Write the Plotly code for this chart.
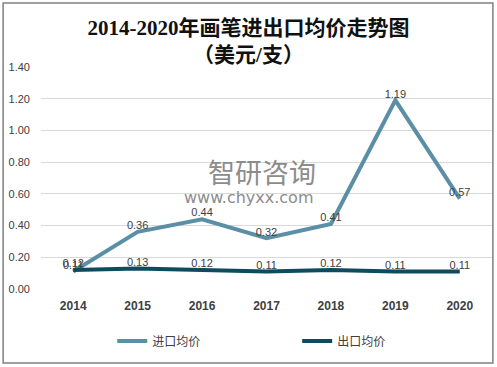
import plotly.graph_objects as go

years = ["2014", "2015", "2016", "2017", "2018", "2019", "2020"]
import_price = [0.11, 0.36, 0.44, 0.32, 0.41, 1.19, 0.57]
export_price = [0.12, 0.13, 0.12, 0.11, 0.12, 0.11, 0.11]
series_names = ["进口均价", "出口均价"]
y_ticks = [0, 0.2, 0.4, 0.6, 0.8, 1.0, 1.2, 1.4]

import_color = "#5B8FA5"
export_color = "#0E4B5E"
label_font = dict(family="Liberation Sans, Noto Sans CJK SC", size=11, color="#404040")
legend_font = dict(family="Noto Sans CJK SC", size=12, color="#404040")

fig = go.Figure()
fig.add_trace(go.Scatter(
    x=years, y=import_price, name=series_names[0], mode="lines+text",
    line=dict(color=import_color, width=4),
    text=[f"{v:.2f}" for v in import_price], textposition="top center",
    textfont=label_font, cliponaxis=False, legend="legend"))
fig.add_trace(go.Scatter(
    x=years, y=export_price, name=series_names[1], mode="lines+text",
    line=dict(color=export_color, width=4),
    text=[f"{v:.2f}" for v in export_price], textposition="top center",
    textfont=label_font, cliponaxis=False, legend="legend2"))

fig.update_layout(
    width=497, height=367,
    margin=dict(l=41, r=5, t=67, b=78, autoexpand=False),
    paper_bgcolor="white", plot_bgcolor="white",
    title=dict(text="<b>2014-2020年画笔进出口均价走势图<br>（美元/支）</b>",
               x=0.5, xanchor="center", y=0.905, yanchor="middle", yref="container",
               font=dict(family="Liberation Serif, Noto Sans CJK SC", size=21, color="#111111")),
    showlegend=True,
    legend=dict(x=0.158, xanchor="left", y=-0.234, yanchor="middle",
                bgcolor="rgba(0,0,0,0)", font=legend_font),
    legend2=dict(x=0.568, xanchor="left", y=-0.234, yanchor="middle",
                 bgcolor="rgba(0,0,0,0)", font=legend_font),
    xaxis=dict(type="category", range=[-0.5, len(years) - 0.5],
               showgrid=False, showline=False, ticks="", automargin=False,
               tickfont=dict(family="Liberation Sans", size=12, color="#404040", weight="bold"),
               ticklabelstandoff=8),
    yaxis=dict(range=[0, 1.4], tickvals=y_ticks, tickformat=".2f", automargin=False,
               gridcolor="#D9D9D9", gridwidth=1, zeroline=False, showline=False,
               tickfont=dict(family="Liberation Sans", size=11, color="#404040"),
               ticklabelstandoff=10),
    shapes=[dict(type="rect", xref="paper", yref="paper",
                 x0=-0.084, x1=1.002, y0=-0.333, y1=1.288,
                 line=dict(color="#808080", width=1.5), layer="below")],
    annotations=[
        dict(text="智研咨询", xref="paper", yref="paper", x=0.49, y=0.53,
             showarrow=False, font=dict(family="Noto Sans CJK SC", size=27, color="#8C8C8C")),
        dict(text="www.chyxx.com", xref="paper", yref="paper", x=0.461, y=0.414,
             showarrow=False, font=dict(family="DejaVu Sans", size=16, color="#8C8C8C")),
    ],
)

fig.write_html("out.html", config={"displayModeBar": False},
               post_script="document.body.style.margin='0';document.body.style.overflow='hidden';")
